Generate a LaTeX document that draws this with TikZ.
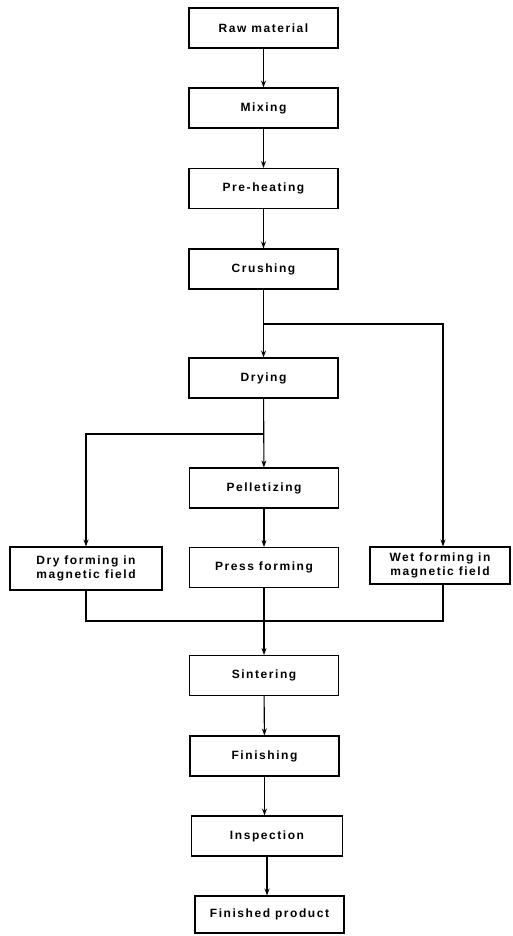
\documentclass[tikz,border=0pt]{standalone}
\usepackage{fontspec}
\setmainfont{Liberation Sans}[LetterSpace=13]
\usetikzlibrary{arrows.meta}
\begin{document}
\begin{tikzpicture}[x=1pt,y=-1pt,
  box/.style={draw,line width=1.1pt,minimum width=149pt,minimum height=40pt,inner sep=0pt,align=center,font=\fontsize{12}{14}\selectfont\bfseries},
  conn/.style={line width=1.1pt},
  arr/.style={line width=1.1pt,-{Stealth[length=7pt,width=5pt]}}]
\useasboundingbox (0,0) rectangle (512,936);
\node[box] (raw) at (263.5,28) {Raw material};
\node[box] (mix) at (263.5,108) {Mixing};
\node[box] (pre) at (263.5,188.5) {Pre-heating};
\node[box] (cru) at (263.5,269) {Crushing};
\node[box] (dry) at (263.5,378) {Drying};
\node[box] (pel) at (264,488) {Pelletizing};
\node[box] (pre2) at (264,567.5) {Press forming};
\node[box,minimum width=152pt,minimum height=43pt] (dfm) at (86,568.5) {Dry forming in\\magnetic field};
\node[box,minimum width=140pt,minimum height=37pt] (wfm) at (440,565.5) {Wet forming in\\magnetic field};
\node[box] (sin) at (264,675.5) {Sintering};
\node[box] (fis) at (264.5,756) {Finishing};
\node[box,minimum width=151pt] (ins) at (267,836) {Inspection};
\node[box,minimum width=149pt,minimum height=37pt] (fin) at (269.5,914.5) {Finished product};
\coordinate (jw) at (443,324);
\coordinate (jd) at (86,434);
\coordinate (mw) at (443,621);
\coordinate (md) at (86,621);
\draw[arr] (raw) -- (mix);
\draw[arr] (mix) -- (pre);
\draw[arr] (pre) -- (cru);
\draw[arr] (cru) -- (dry);
\draw[arr] (cru.south |- jw) -- (jw) -- (jw |- wfm.north);
\draw[arr] (dry) -- (pel);
\draw[arr] (dry.south |- jd) -- (jd) -- (dfm);
\draw[arr] (pel) -- (pre2);
\draw[conn] (dfm) -- (md) -- (mw) -- (mw |- wfm.south);
\draw[arr] (pre2) -- (sin);
\draw[arr] (sin) -- (fis);
\draw[arr] (fis.south) -- (fis.south |- ins.north);
\draw[arr] (ins.south) -- (ins.south |- fin.north);
\end{tikzpicture}
\end{document}
